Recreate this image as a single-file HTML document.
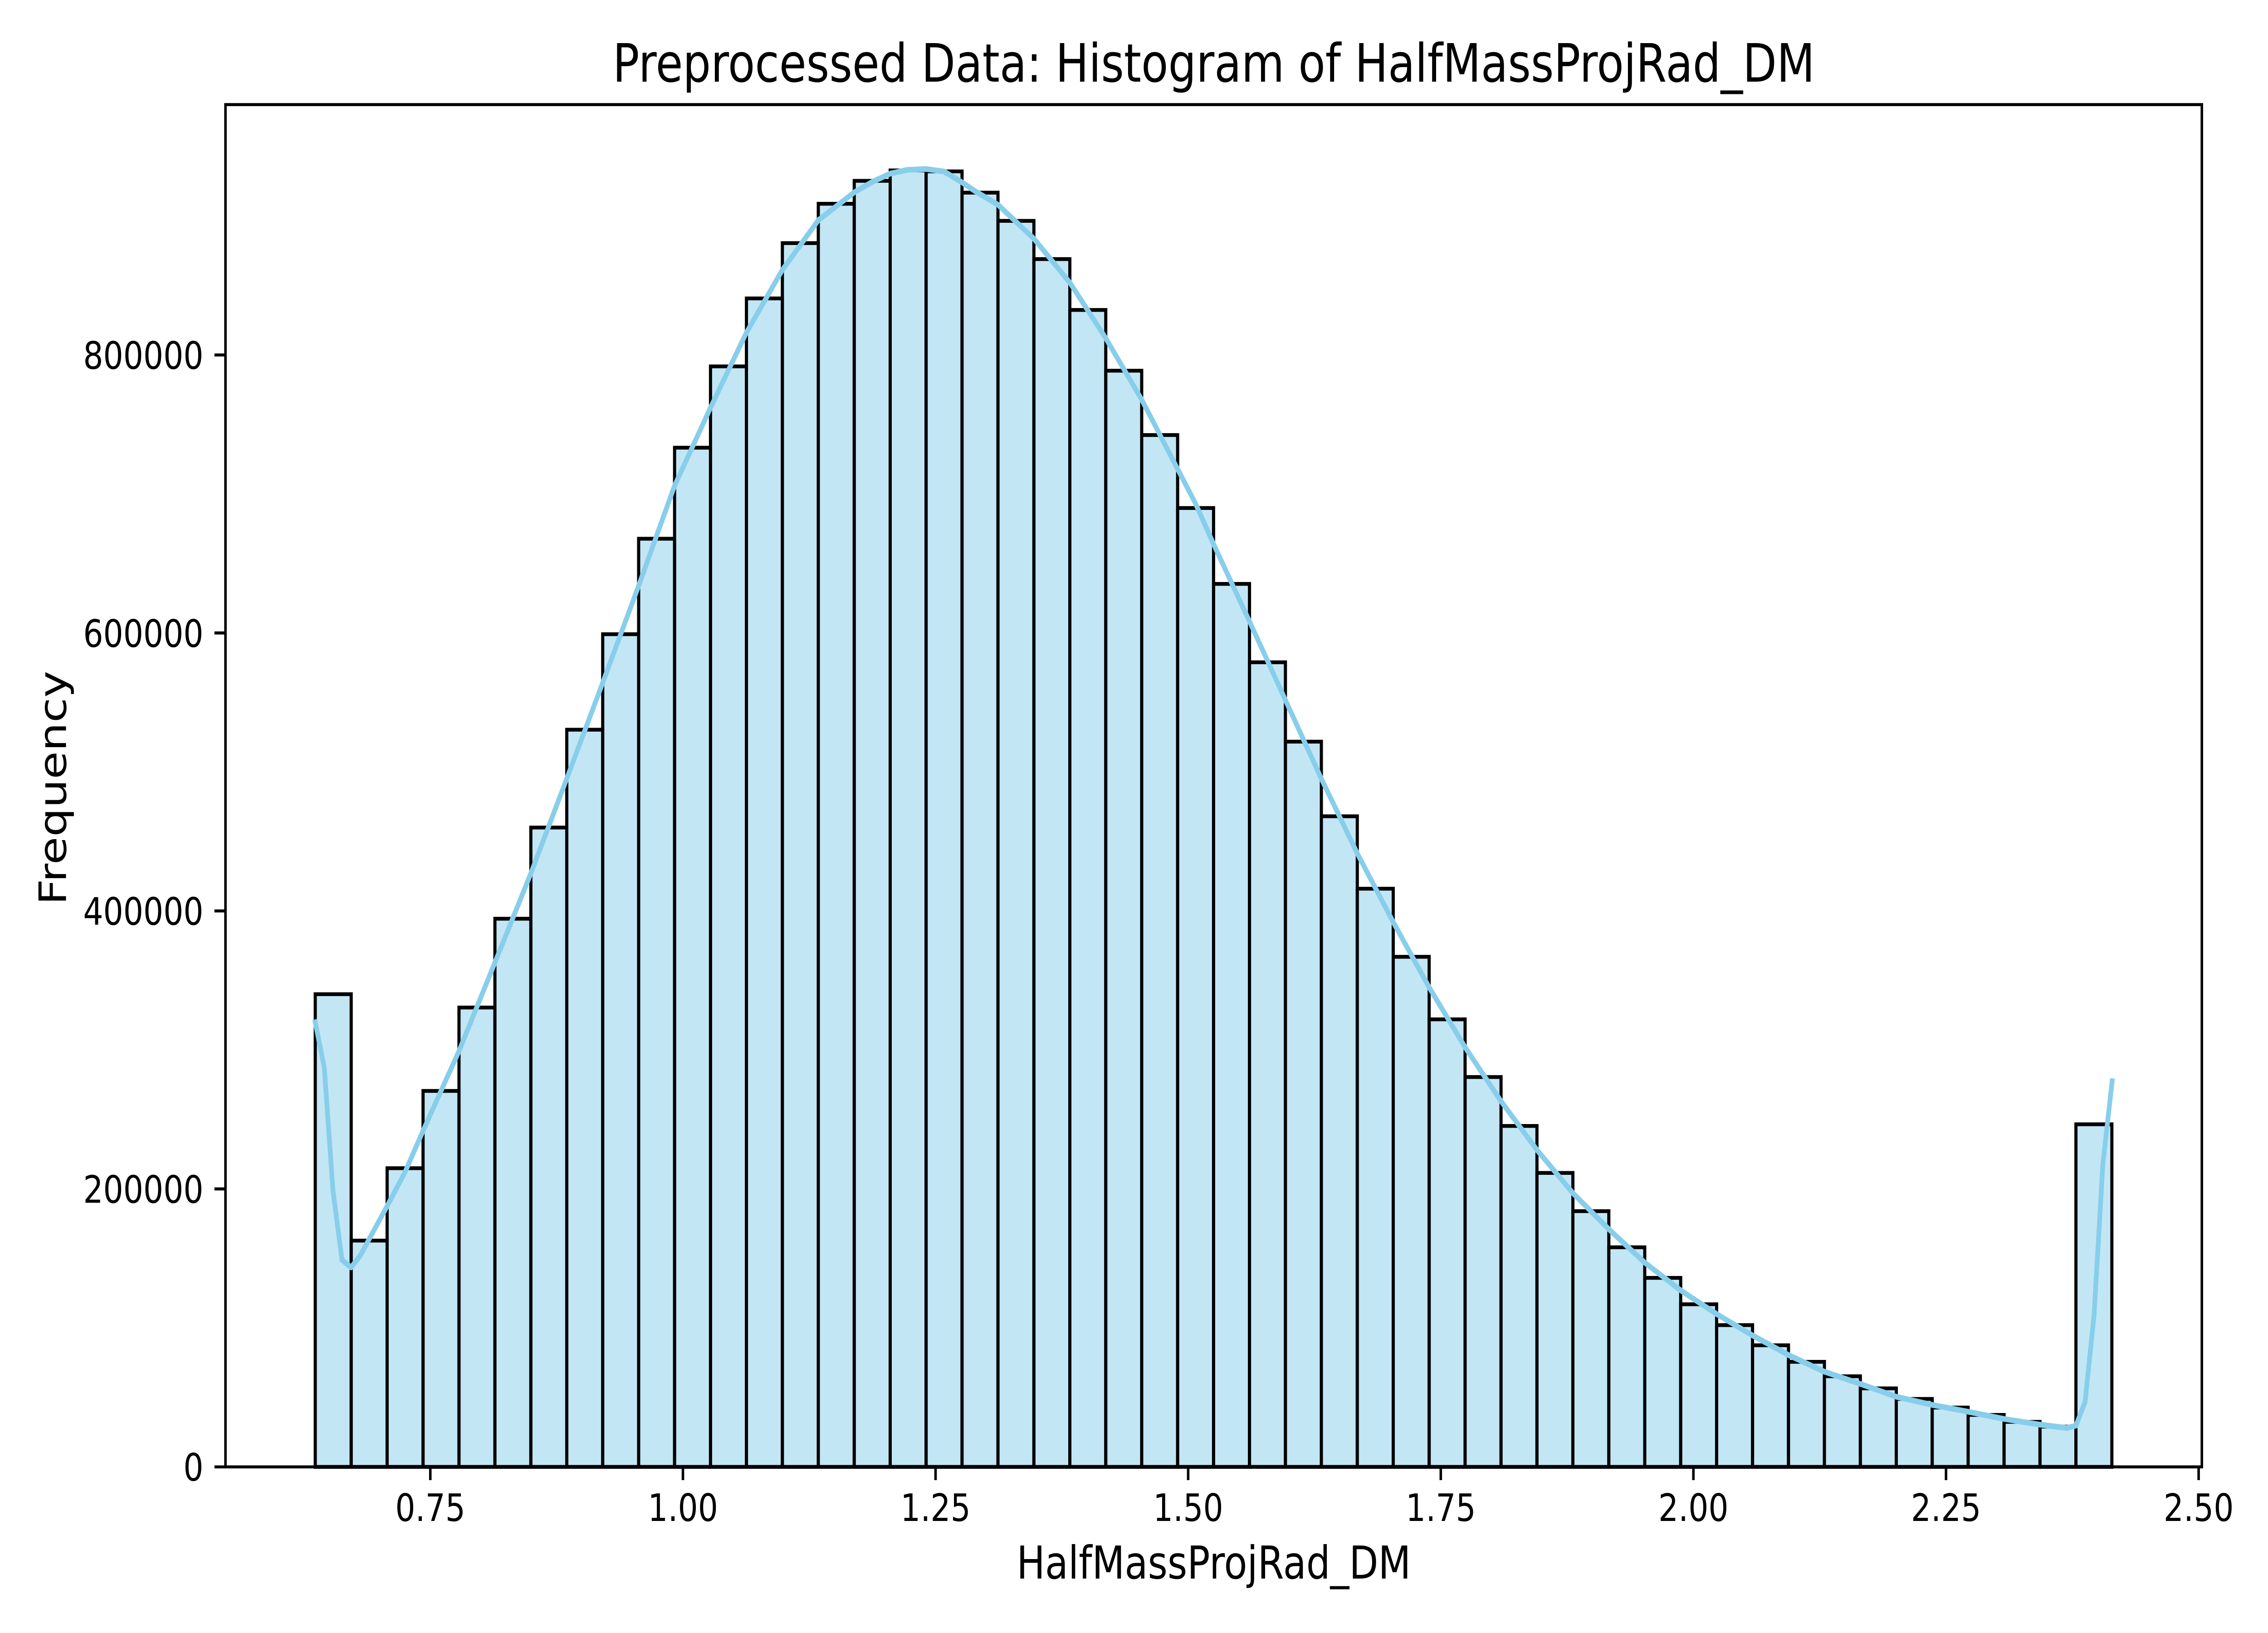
<!DOCTYPE html>
<html lang="en">
<head>
<meta charset="utf-8">
<title>Preprocessed Data: Histogram of HalfMassProjRad_DM</title>
<style>
html,body{margin:0;padding:0;background:#fff;width:100%;height:100%;overflow:hidden}
svg{display:block;position:fixed;left:0;top:0;width:100vw;height:100vh}
text{font-family:"DejaVu Sans","Liberation Sans",sans-serif;fill:#000;text-rendering:geometricPrecision}
</style>
</head>
<body>
<svg id="chart" xmlns="http://www.w3.org/2000/svg" viewBox="0 0 6000 3600" preserveAspectRatio="none">
  <rect x="0" y="0" width="6000" height="3600" fill="#ffffff"/>
  <g id="bars"></g>
  <g id="kde"></g>
  <g id="x-axis"></g>
  <g id="y-axis"></g>
  <g id="spines"></g>
  <text x="3211" y="180" font-size="116.67" text-anchor="middle">Preprocessed Data: Histogram of HalfMassProjRad_DM</text>
  <text x="3211" y="3480" font-size="100" text-anchor="middle">HalfMassProjRad_DM</text>
  <text transform="translate(174.5,1737) rotate(-90)" font-size="100" text-anchor="middle">Frequency</text>
</svg>
<script>
const binStart = 0.63613;
const binWidth = 0.03556;
const binCounts = [
  340100, 162800, 214900, 270500, 330500, 394400, 460000, 530400, 599100, 667800,
  733300, 791800, 840700, 880500, 908800, 925300, 932800, 932100, 916800, 896500,
  869000, 832400, 788700, 742400, 689900, 635300, 578900, 521800, 468100, 416000,
  367000, 322000, 280500, 245300, 211500, 184000, 158000, 136000, 117000, 102000,
  87500, 75600, 65200, 56500, 48900, 42700, 37400, 32400, 29000, 246500
];
const kdeX = [
  0.6361, 0.6451, 0.6537, 0.6626, 0.6716, 0.6806, 0.7073, 0.7248, 0.7428, 0.7784,
  0.8139, 0.8495, 0.8851, 0.9206, 0.9562, 0.9917, 1.0273, 1.0629, 1.0984, 1.1340,
  1.1695, 1.1873, 1.2051, 1.2219, 1.2406, 1.2585, 1.2762, 1.2893, 1.3118, 1.3473,
  1.3829, 1.4184, 1.4540, 1.4895, 1.5073, 1.5251, 1.5607, 1.5962, 1.6318, 1.6673,
  1.7029, 1.7385, 1.7740, 1.8096, 1.8451, 1.8807, 1.9163, 1.9518, 1.9874, 2.0229,
  2.0585, 2.0941, 2.1296, 2.1652, 2.2007, 2.2363, 2.2719, 2.3074, 2.3430, 2.3696,
  2.3786, 2.3876, 2.3965, 2.4052, 2.4144
];
const kdeY = [
  319900, 287100, 198400, 148900, 143500, 152000, 187700, 211800, 241800, 299200,
  362800, 427000, 495300, 564200, 634000, 705900, 762100, 816200, 861200, 897000,
  917000, 924500, 930500, 933200, 933800, 932000, 924200, 917800, 908100, 883700,
  852100, 812100, 767900, 718000, 693100, 664000, 608300, 551800, 495100, 441500,
  392000, 345000, 302000, 263100, 228100, 197000, 171000, 147000, 127000, 110000,
  94600, 80500, 68500, 59700, 50500, 44600, 39700, 34500, 30400, 28000,
  29700, 46600, 109100, 217600, 277500
];
const xTickValues = [0.75, 1.00, 1.25, 1.50, 1.75, 2.00, 2.25, 2.50];
const xTickLabels = ["0.75", "1.00", "1.25", "1.50", "1.75", "2.00", "2.25", "2.50"];
const yTickValues = [0, 200000, 400000, 600000, 800000];
const yTickLabels = ["0", "200000", "400000", "600000", "800000"];

const plotLeft = 596.5, plotRight = 5825, plotTop = 230.6, plotBottom = 3233.8;
const xMin = 0.54728, xMax = 2.50318, yMin = 0, yMax = 980150;
const tickLength = 29.17, tickPad = 29.17;
const SVG_NS = "http://www.w3.org/2000/svg";

function xScale(v) { return plotLeft + (v - xMin) / (xMax - xMin) * (plotRight - plotLeft); }
function yScale(v) { return plotBottom - (v - yMin) / (yMax - yMin) * (plotBottom - plotTop); }

function make(tag, parent, attrs) {
  const el = document.createElementNS(SVG_NS, tag);
  for (const k in attrs) el.setAttribute(k, attrs[k]);
  parent.appendChild(el);
  return el;
}

const barsGroup = document.getElementById("bars");
binCounts.forEach(function (count, i) {
  const x0 = xScale(binStart + i * binWidth);
  const x1 = xScale(binStart + (i + 1) * binWidth);
  const y0 = yScale(count);
  const rect = make("rect", barsGroup, {
    x: x0, y: y0, width: x1 - x0, height: yScale(0) - y0,
    fill: "#87ceeb", "fill-opacity": 0.5, stroke: "#000000", "stroke-width": 8.33
  });
  
  
});

const kdeGroup = document.getElementById("kde");
const kdePoints = kdeX.map(function (x, i) { return xScale(x).toFixed(2) + "," + yScale(kdeY[i]).toFixed(2); }).join(" ");
const kdeLine = make("polyline", kdeGroup, {
  points: kdePoints, fill: "none", stroke: "#87ceeb", "stroke-width": 12.5,
  "stroke-linejoin": "round", "stroke-linecap": "square"
});



const xAxisGroup = document.getElementById("x-axis");
xTickValues.forEach(function (v, i) {
  const x = xScale(v);
  const tick = make("line", xAxisGroup, { x1: x, x2: x, y1: plotBottom, y2: plotBottom + tickLength, stroke: "#000", "stroke-width": 6.67 });
  
  
  const label = make("text", xAxisGroup, { x: x, y: plotBottom + tickLength + tickPad + 61, "font-size": 83.33, "text-anchor": "middle" });
  label.textContent = xTickLabels[i];
  
  
});

const yAxisGroup = document.getElementById("y-axis");
yTickValues.forEach(function (v, i) {
  const y = yScale(v);
  const tick = make("line", yAxisGroup, { x1: plotLeft - tickLength, x2: plotLeft, y1: y, y2: y, stroke: "#000", "stroke-width": 6.67 });
  
  
  const label = make("text", yAxisGroup, { x: plotLeft - tickLength - tickPad, y: y + 30.4, "font-size": 83.33, "text-anchor": "end" });
  label.textContent = yTickLabels[i];
  
  
});

const spinesGroup = document.getElementById("spines");
const frame = make("rect", spinesGroup, {
  x: plotLeft, y: plotTop, width: plotRight - plotLeft, height: plotBottom - plotTop,
  fill: "none", stroke: "#000", "stroke-width": 6.67, "stroke-linejoin": "miter"
});


</script>
</body>
</html>
